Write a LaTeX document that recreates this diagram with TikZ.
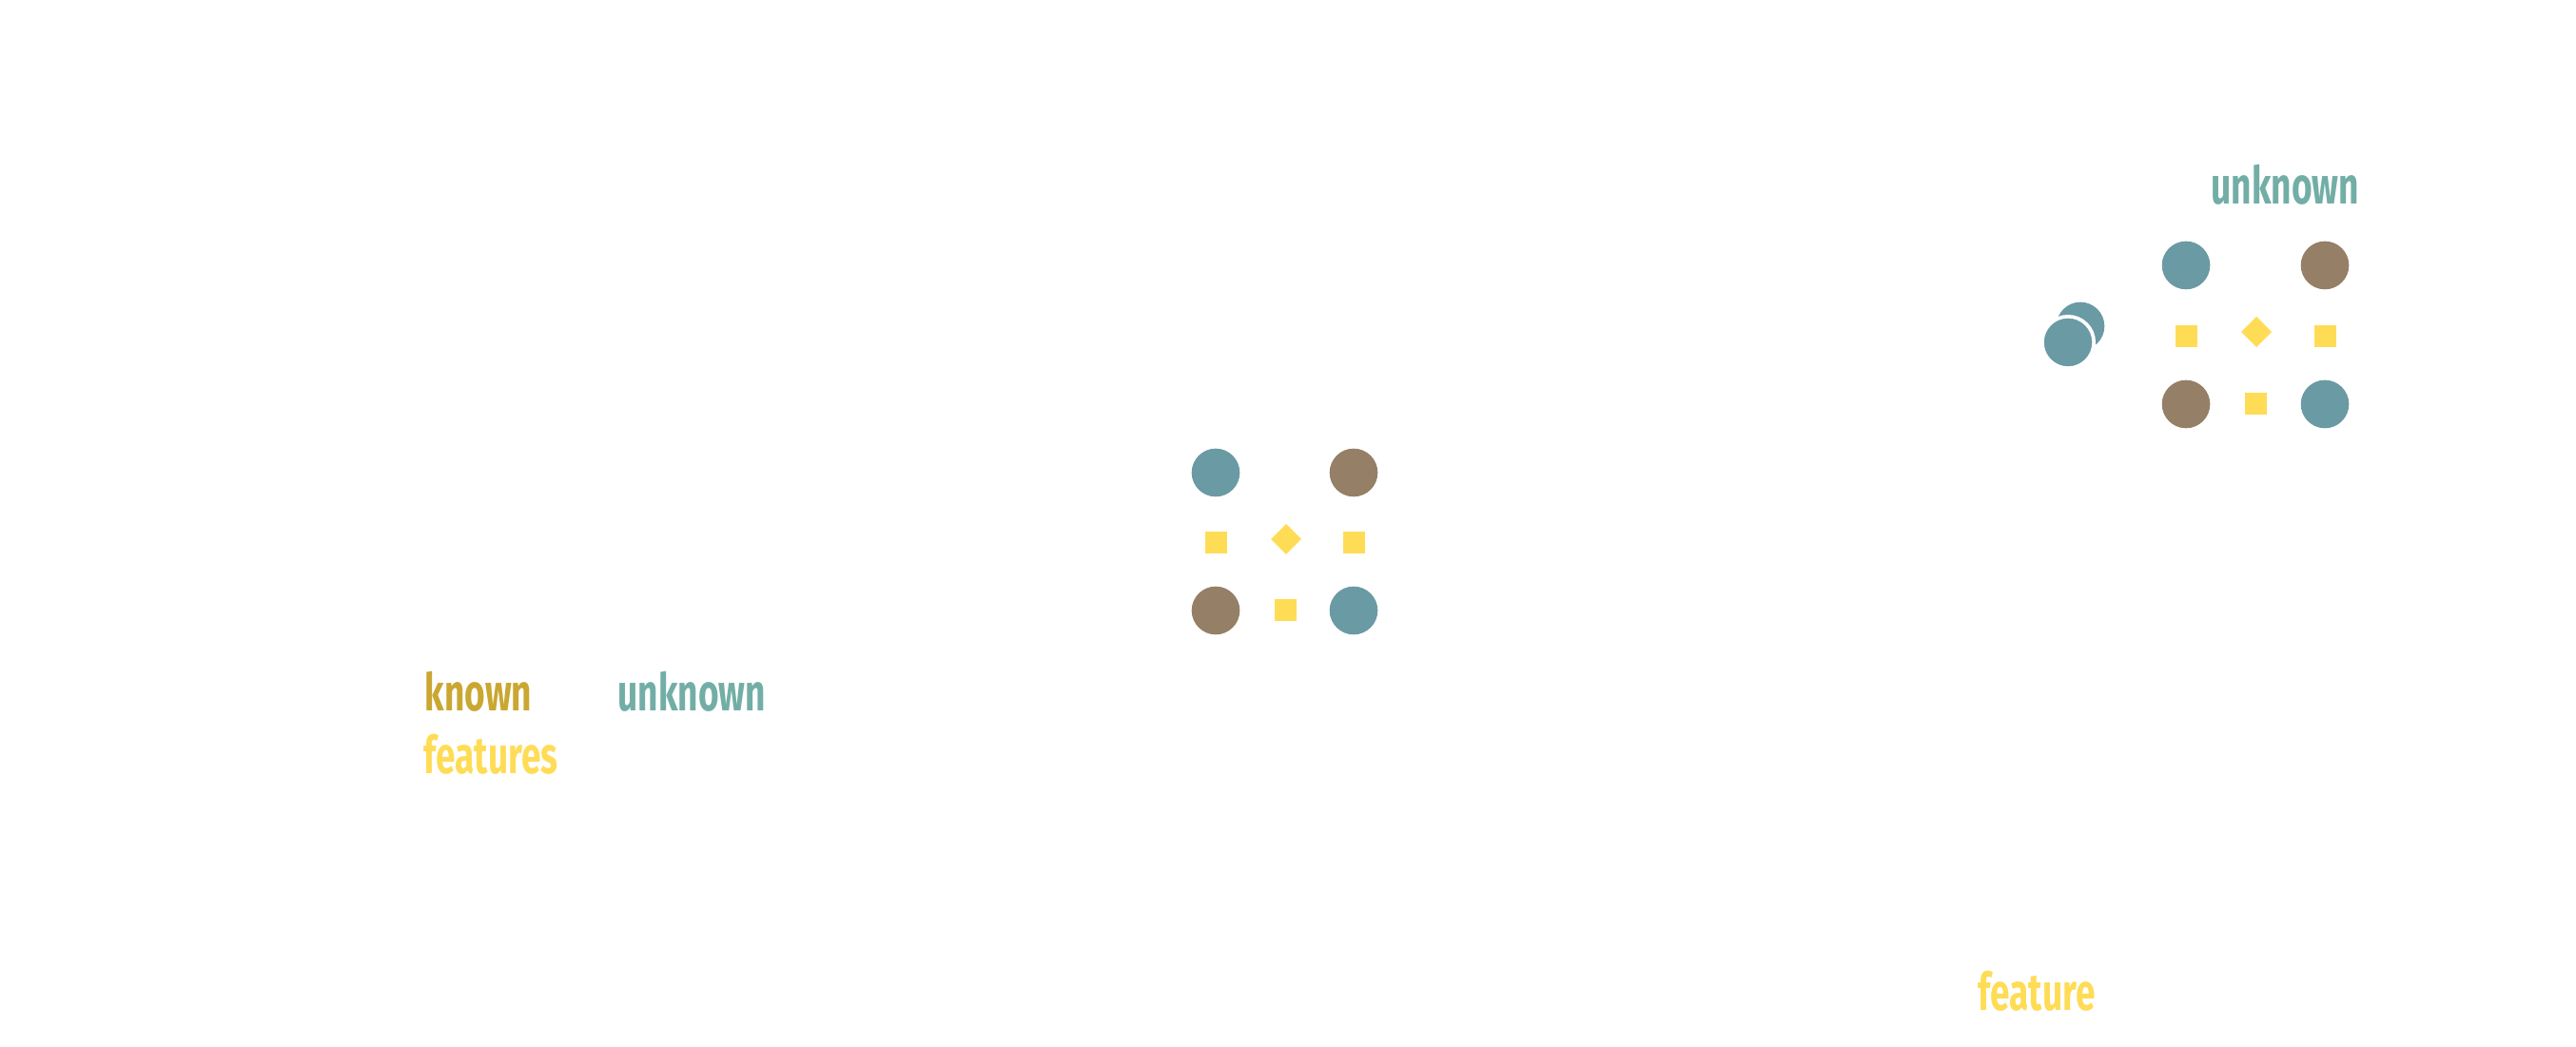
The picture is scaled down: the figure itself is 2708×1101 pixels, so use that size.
\documentclass[tikz,border=0pt]{standalone}
\usepackage{fontspec}
\setmainfont{Fira Sans}[FakeStretch=0.68]
\usepackage{xcolor}
\definecolor{tealc}{HTML}{6A9AA3}
\definecolor{brownc}{HTML}{957F67}
\definecolor{featc}{HTML}{FFDC55}
\definecolor{knownc}{HTML}{C9A731}
\definecolor{unkc}{HTML}{72AEA6}

\begin{document}
\begin{tikzpicture}[
  x=0.01cm, y=-0.01cm,
  font=\fontsize{15.5}{18}\selectfont\bfseries,
  dot/.style={circle, inner sep=0, minimum size=0.506cm},
  tdot/.style={dot, fill=tealc},
  bdot/.style={dot, fill=brownc},
  feat/.style={rectangle, inner sep=0, minimum size=0.23cm, fill=featc},
  dia/.style={feat, minimum size=0.226cm, rotate=45},
  lbl/.style={anchor=base west, inner sep=0},
]
  \useasboundingbox (0,0) rectangle (2708,1101);
  % middle group
  \node[tdot] (t1) at (1278,497) {};
  \node[bdot] (b1) at (1423,497) {};
  \node[bdot] (b2) at (1278,642) {};
  \node[tdot] (t2) at (1423,642) {};
  \node[feat] (f1) at (1278,571) {};
  \node[dia]  (d1) at (1352,567) {};
  \node[feat] (f2) at (1423,571) {};
  \node[feat] (f3) at (1351,642) {};
  % right group
  \node[tdot] (t3) at (2298,279) {};
  \node[bdot] (b3) at (2444,279) {};
  \node[bdot] (b4) at (2298,425) {};
  \node[tdot] (t4) at (2444,425) {};
  \node[feat] (f4) at (2298,354) {};
  \node[dia]  (d2) at (2372,349) {};
  \node[feat] (f5) at (2444,354) {};
  \node[feat] (f6) at (2371,425) {};
  \node[tdot] (t5) at (2187,343) {};
  \node[tdot, draw=white, line width=0.037cm, minimum size=0.543cm] (t6) at (2174,360) {};
  % labels
  \node[lbl, text=knownc] (lk) at (446,748) {known};
  \node[lbl, text=unkc] (lu) at (649,748) {unknown};
  \node[lbl, text=featc] (lf) at (445,814) {features};
  \node[lbl, text=unkc] (ru) at (2324,215) {unknown};
  \node[lbl, text=featc] (rf) at (2079,1063) {feature};
\end{tikzpicture}
\end{document}
